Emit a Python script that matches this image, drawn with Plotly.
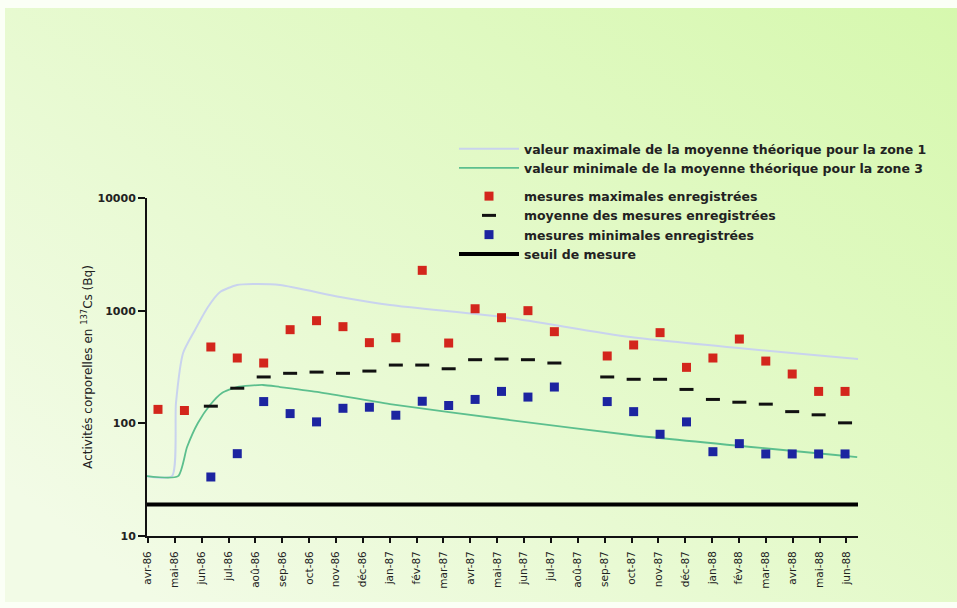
import base64
import plotly.graph_objects as go

# ---------------- data ----------------
months = ["avr-86", "mai-86", "jun-86", "jul-86", "aoû-86", "sep-86", "oct-86",
          "nov-86", "déc-86", "jan-87", "fév-87", "mar-87", "avr-87", "mai-87",
          "jun-87", "jul-87", "aoû-87", "sep-87", "oct-87", "nov-87", "déc-87",
          "jan-88", "fév-88", "mar-88", "avr-88", "mai-88", "jun-88"]
month_idx = list(range(len(months)))

max_measured = [133, 130, 476, 380, 343, 678, 815, 721, 520, 575, 2280, 516, 1040,
                866, 1000, 651, None, 396, 496, 638, 314, 380, 560, 357, 274, 192, 192]
mean_measured = [None, None, 142, 205, 258, 278, 285, 278, 291, 329, 329, 305, 367,
                 372, 367, 343, None, 258, 246, 246, 200, 163, 154, 148, 127, 119, 101]
min_measured = [None, None, 33.4, 53.8, 156, 122, 103, 136, 139, 118, 157, 144, 163,
                192, 171, 210, None, 156, 127, 80, 103, 56, 66, 53.5, 53.5, 53.5, 53.5]

curve_max_x = [-0.42, 0.53, 0.68, 0.95, 1.40, 1.89, 2.35, 2.99, 3.60, 4.62, 6.89,
               8.78, 13.32, 17.87, 26.5]
curve_max = [34, 34, 151, 421, 674, 1078, 1464, 1689, 1724, 1689, 1322, 1122, 861,
             583, 372]
curve_min_x = [-0.42, 0.76, 1.10, 1.51, 1.97, 2.42, 2.99, 3.97, 4.62, 6.02, 8.78,
               13.32, 17.87, 26.46]
curve_min = [34, 34, 61.6, 100.7, 145.5, 186, 210, 219, 210, 190, 148, 107, 78.8, 50.2]

seuil_value = 19
seuil_span = [-0.04, 26.43]

y_ticks = [10, 100, 1000, 10000]

# ---------------- layout geometry ----------------
W, H = 957, 608
ML, MR, MT, MB = 147, 99, 198, 72
PW, PH = W - ML - MR, H - MT - MB

LEG_FONT = dict(family="DejaVu Sans", size=12.5, color="#222222", weight="bold")

fig = go.Figure()

fig.add_trace(go.Scatter(
    x=curve_max_x, y=curve_max, xaxis="x2", mode="lines", legendgroup="theo",
    line=dict(color="#c9d3ee", width=2, shape="spline", smoothing=0.6),
    name="valeur maximale de la moyenne théorique pour la zone 1"))
fig.add_trace(go.Scatter(
    x=curve_min_x, y=curve_min, xaxis="x2", mode="lines", legendgroup="theo",
    line=dict(color="#5cbf8e", width=1.8, shape="spline", smoothing=0.6),
    name="valeur minimale de la moyenne théorique pour la zone 3"))
fig.add_trace(go.Scatter(
    x=month_idx, y=max_measured, xaxis="x2", mode="markers", legendgroup="mes",
    marker=dict(symbol="square", size=9, color="#d3261c"),
    name="mesures maximales enregistrées"))
fig.add_trace(go.Scatter(
    x=month_idx, y=mean_measured, xaxis="x2", mode="markers", legendgroup="mes",
    marker=dict(symbol="line-ew", size=10, line=dict(color="#111111", width=3)),
    name="moyenne des mesures enregistrées"))
fig.add_trace(go.Scatter(
    x=month_idx, y=min_measured, xaxis="x2", mode="markers", legendgroup="mes",
    marker=dict(symbol="square", size=9, color="#1c24a0"),
    name="mesures minimales enregistrées"))
fig.add_trace(go.Scatter(
    x=seuil_span, y=[seuil_value, seuil_value], xaxis="x", mode="lines",
    legendgroup="mes", line=dict(color="#000000", width=4),
    name="seuil de mesure"))

# background gradient
svg = (
    f"<svg xmlns='http://www.w3.org/2000/svg' width='{W}' height='{H}'>"
    "<defs><linearGradient id='g' x1='0' y1='0.8' x2='1' y2='0'>"
    "<stop offset='0' stop-color='#f2fbe6'/><stop offset='1' stop-color='#d6f8ae'/>"
    "</linearGradient></defs>"
    f"<rect width='{W}' height='{H}' fill='#fbfff6'/>"
    f"<rect x='5' y='8' width='{W - 5}' height='{H - 14}' fill='url(#g)'/></svg>"
)
bg_src = "data:image/svg+xml;base64," + base64.b64encode(svg.encode()).decode()

fig.update_layout(
    width=W, height=H,
    margin=dict(l=ML, r=MR, t=MT, b=MB, autoexpand=False),
    paper_bgcolor="#f0fbe0",
    plot_bgcolor="rgba(0,0,0,0)",
    showlegend=True,
    legend=dict(x=(454 - ML) / PW, y=(H - MB - 134) / PH,
                xanchor="left", yanchor="top", bgcolor="rgba(0,0,0,0)",
                font=LEG_FONT, itemwidth=60, traceorder="grouped",
                tracegroupgap=9),
    images=[dict(source=bg_src, xref="paper", yref="paper",
                 x=-ML / PW, y=1 + MT / PH, sizex=W / PW, sizey=H / PH,
                 xanchor="left", yanchor="top", sizing="stretch", layer="below")],
    xaxis=dict(
        range=[-0.037, 26.43], tickmode="array", tickvals=month_idx, ticktext=months,
        tickangle=-90, ticks="outside", ticklen=5, tickwidth=1.5, tickcolor="#111",
        showline=True, linecolor="#111", linewidth=2, showgrid=False, zeroline=False,
        tickfont=dict(family="DejaVu Sans", size=10.5, color="#222"),
        ticklabelstandoff=4, fixedrange=True),
    xaxis2=dict(range=[-0.416, 26.49], overlaying="x", visible=False, fixedrange=True),
    yaxis=dict(
        type="log", range=[1, 4], tickmode="array", tickvals=y_ticks,
        ticktext=[str(v) for v in y_ticks], ticks="outside", ticklen=7, tickwidth=2,
        tickcolor="#111", showline=True, linecolor="#111", linewidth=2,
        showgrid=False, zeroline=False,
        tickfont=dict(family="DejaVu Sans", size=11, color="#222", weight="bold"),
        title=dict(text="Activités corporelles en <sup>137</sup>Cs (Bq)",
                   font=dict(family="DejaVu Sans", size=12, color="#222"),
                   standoff=2),
        fixedrange=True),
)

fig.write_html("out.html", config={"displayModeBar": False},
               post_script="document.body.style.margin='0';"
                           "document.body.style.overflow='hidden';")
